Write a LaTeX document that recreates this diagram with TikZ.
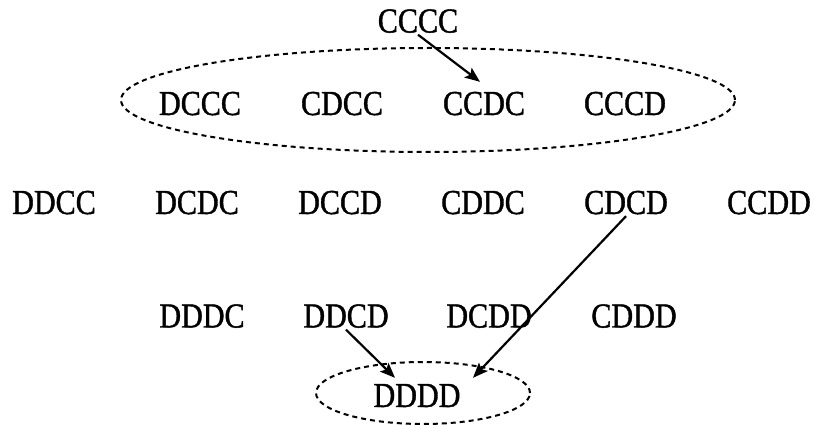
\documentclass[tikz,border=0pt]{standalone}
\usepackage{fontspec}
\setmainfont{Liberation Serif}
\newfontfamily\statefont{Liberation Serif}[FakeBold=1.2]
\usetikzlibrary{arrows.meta,calc}
\newcommand{\sq}[1]{\scalebox{0.86}[1]{#1}}
\tikzset{
  state/.style={font=\statefont\fontsize{35}{36}\selectfont, inner sep=2pt, text height=23pt, text depth=0pt},
  move/.style={line width=2.2pt, -{Stealth[length=15pt,width=12pt,inset=3pt]}},
  group/.style={line width=2pt, dash pattern=on 5pt off 4pt}
}
\begin{document}
\begin{tikzpicture}[x=1pt,y=1pt]
\useasboundingbox (0,0) rectangle (813,425);
\node[state] (cccc) at (418,404) {\sq{CCCC}};
% one D
\node[state] (dccc) at (200,321.5) {\sq{DCCC}};
\node[state] (cdcc) at (342,321.5) {\sq{CDCC}};
\node[state] (ccdc) at (484,321.5) {\sq{CCDC}};
\node[state] (cccd) at (625,321.5) {\sq{CCCD}};
\draw[group] (428,325) ellipse (307 and 52);
% two D
\node[state] (ddcc) at (54,222.5) {\sq{DDCC}};
\node[state] (dcdc) at (197,222.5) {\sq{DCDC}};
\node[state] (dccd) at (340,222.5) {\sq{DCCD}};
\node[state] (cddc) at (483,222.5) {\sq{CDDC}};
\node[state] (cdcd) at (626,222.5) {\sq{CDCD}};
\node[state] (ccdd) at (769,222.5) {\sq{CCDD}};
% three D
\node[state] (dddc) at (202,109) {\sq{DDDC}};
\node[state] (ddcd) at (346,109) {\sq{DDCD}};
\node[state] (dcdd) at (489,109) {\sq{DCDD}};
\node[state] (cddd) at (634,109) {\sq{CDDD}};
% four D
\node[state] (dddd) at (417,29.5) {\sq{DDDD}};
\draw[group] (423,32) ellipse (107 and 31);
\draw[move] (cccc.south) -- ($(ccdc.north)+(-4,8)$);
\draw[move] (cdcd.south) -- ($(dddd.north)+(56,4)$);
\draw[move] (ddcd.south) -- ($(dddd.north)+(-22,4)$);
\end{tikzpicture}
\end{document}
